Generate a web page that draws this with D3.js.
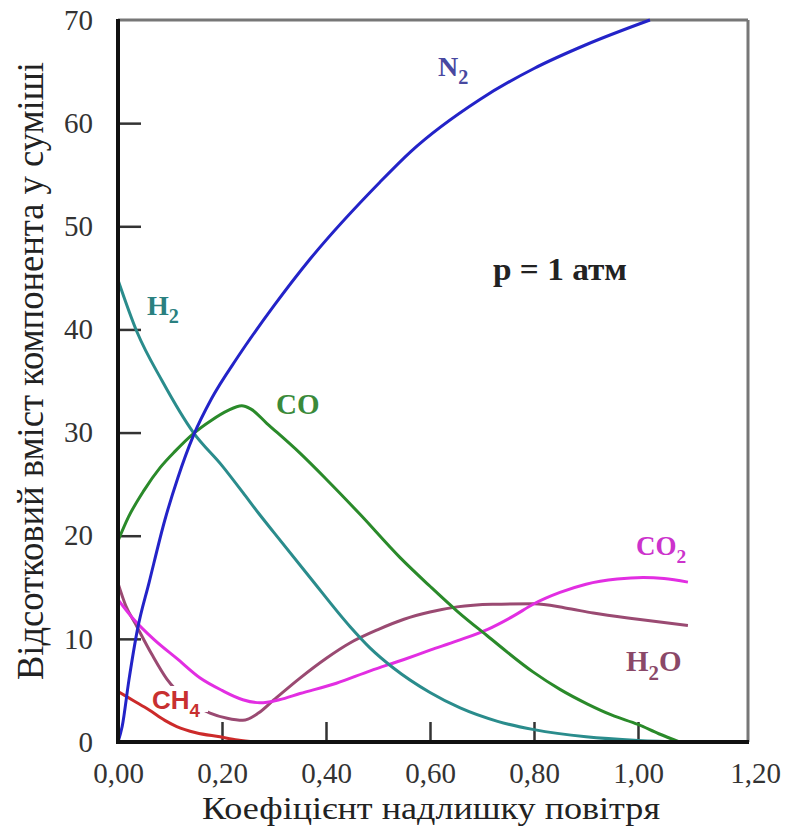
<!DOCTYPE html>
<html>
<head>
<meta charset="utf-8">
<script src="https://cdn.jsdelivr.net/npm/d3@7"></script>
<style>
  body { margin: 0; background: #fff; }
  svg { display: block; }
</style>
</head>
<body>
<svg id="chart" width="789" height="834"></svg>
<script>
// ---------------- data ----------------
var xTicks = [0, 0.2, 0.4, 0.6, 0.8, 1.0, 1.2];
var yTicks = [0, 10, 20, 30, 40, 50, 60, 70];

var N2  = [[0,0],[0.008,1.5],[0.021,6],[0.037,10.8],[0.06,15.5],[0.09,21.5],[0.115,25.6],[0.145,29.7],
           [0.18,33.3],[0.23,37.3],[0.3,42.3],[0.369,46.8],[0.504,54.3],[0.562,57.2],[0.696,62.3],
           [0.8,65.3],[0.9,67.6],[1.023,70]];
var H2  = [[0,44.8],[0.037,39.7],[0.085,35],[0.145,30],[0.2,26.8],[0.24,24.2],
           [0.27,22.2],[0.3,20.3],[0.37,15.9],[0.446,11.2],[0.485,9.1],[0.529,7.2],[0.6,4.8],[0.658,3.3],
           [0.73,2],[0.8,1.2],[0.9,0.5],[1.0,0.15],[1.094,0]];
var CO  = [[0,19.5],[0.02,21.8],[0.05,24.4],[0.081,26.6],[0.11,28.2],[0.145,29.9],[0.18,31.2],[0.21,32.1],
           [0.238,32.6],[0.255,32.3],[0.286,30.9],[0.35,28],[0.4,25.5],[0.465,22.1],[0.542,17.9],[0.6,15.1],
           [0.652,12.7],[0.71,10.3],[0.798,6.8],[0.85,5.1],[0.902,3.7],[0.95,2.6],[1.0,1.7],[1.04,0.8],[1.08,0]];
var CO2 = [[0,13.8],[0.03,11.9],[0.07,9.9],[0.113,8.1],[0.158,6.2],[0.2,5],[0.24,4.1],[0.273,3.8],
           [0.31,4.1],[0.35,4.7],[0.42,5.7],[0.485,6.9],[0.55,8],[0.6,8.9],[0.652,9.8],[0.71,10.9],
           [0.76,12.2],[0.8,13.4],[0.85,14.5],[0.9,15.3],[0.96,15.8],[1.01,15.95],[1.05,15.85],[1.096,15.5]];
var H2O = [[0,15.4],[0.015,13.2],[0.033,11.5],[0.065,8.5],[0.094,6.1],[0.13,4.2],[0.177,2.8],
           [0.21,2.3],[0.24,2.1],[0.27,2.8],[0.3,4.1],[0.35,6.2],[0.4,8.1],[0.446,9.6],[0.5,10.9],
           [0.55,11.9],[0.6,12.6],[0.652,13.1],[0.72,13.35],[0.8,13.4],[0.86,13],[0.914,12.5],[1.0,11.9],[1.096,11.3]];
var CH4 = [[0,4.9],[0.03,4],[0.06,3.1],[0.09,2.1],[0.113,1.5],[0.15,0.9],[0.196,0.5],[0.23,0.2],[0.267,0]];

// ---------------- setup ----------------
var svg = d3.select("#chart");
var serif = '"Liberation Serif", "Times New Roman", serif';

var xScale = d3.scaleLinear().domain([0, 1.2]).range([118, 742]);
var yScale = d3.scaleLinear().domain([0, 70]).range([742, 20]);
var frameRight = xScale(1.2) + 6;

var line = d3.line()
    .x(function(d) { return xScale(d[0]); })
    .y(function(d) { return yScale(d[1]); })
    .curve(d3.curveMonotoneX);

// ---------------- axes ----------------
var xAxis = svg.append("g")
    .attr("transform", "translate(0," + yScale(0) + ")")
    .call(d3.axisBottom(xScale).tickValues(xTicks).tickSize(-20).tickPadding(20)
          .tickFormat(function(d) { return d3.format(".2f")(d).replace(".", ","); }));
xAxis.select(".domain").remove();
xAxis.selectAll(".tick line").attr("stroke", "#333").attr("stroke-width", 2.5)
    .style("display", function(d) { return (d === 0 || d === 1.2) ? "none" : null; });
xAxis.selectAll(".tick text")
    .attr("dx", function(d) { return d === 1.2 ? 13 : 0; })
    .style("font-family", serif).style("font-size", "29px").attr("fill", "#333");

var yAxis = svg.append("g")
    .attr("transform", "translate(" + xScale(0) + ",0)")
    .call(d3.axisLeft(yScale).tickValues(yTicks).tickSize(-23).tickPadding(25));
yAxis.select(".domain").remove();
yAxis.selectAll(".tick line").attr("stroke", "#333").attr("stroke-width", 2.5)
    .style("display", function(d) { return (d === 0 || d === 70) ? "none" : null; });
yAxis.selectAll(".tick text")
    .style("font-family", serif).style("font-size", "29px").attr("fill", "#333");

// frame: gray top/right
svg.append("line").attr("x1", xScale(0)).attr("x2", frameRight)
    .attr("y1", yScale(70)).attr("y2", yScale(70))
    .attr("stroke", "#777").attr("stroke-width", 3);
svg.append("line").attr("x1", frameRight).attr("x2", frameRight)
    .attr("y1", yScale(70)).attr("y2", yScale(0))
    .attr("stroke", "#777").attr("stroke-width", 3);

// ---------------- curves ----------------
function drawCurve(data, color) {
  svg.append("path").datum(data)
      .attr("d", line)
      .attr("fill", "none")
      .attr("stroke", color)
      .attr("stroke-width", 3)
      .attr("stroke-linejoin", "round");
}

drawCurve(H2O, "#9a4a72");

// white box under the CH4 label cuts the H2O line
svg.append("rect").attr("x", 150).attr("y", 686).attr("width", 58).attr("height", 26).attr("fill", "#fff");

drawCurve(CH4, "#cc2a2a");
drawCurve(CO2, "#e22ee2");
drawCurve(H2, "#2a8c8c");
drawCurve(CO, "#2a8a2a");
drawCurve(N2, "#2323c8");

// black left / bottom axes
svg.append("line").attr("x1", xScale(0)).attr("x2", xScale(0))
    .attr("y1", yScale(70) - 1).attr("y2", yScale(0) + 2)
    .attr("stroke", "#111").attr("stroke-width", 4);
svg.append("line").attr("x1", xScale(0) - 2).attr("x2", frameRight + 1)
    .attr("y1", yScale(0)).attr("y2", yScale(0))
    .attr("stroke", "#111").attr("stroke-width", 4);

// ---------------- labels ----------------
function chemLabel(x, y, main, sub, tail, color, size, family) {
  var t = svg.append("text")
      .attr("x", x).attr("y", y)
      .style("font-family", family || serif)
      .style("font-weight", "bold")
      .style("font-size", size + "px")
      .attr("fill", color);
  t.append("tspan").text(main);
  if (sub) t.append("tspan").attr("dy", size * 0.3).style("font-size", (size * 0.72) + "px").text(sub);
  if (tail) t.append("tspan").attr("dy", -size * 0.3).text(tail);
  return t;
}

chemLabel(438, 76, "N", "2", null, "#4848a0", 28);
chemLabel(147, 315, "H", "2", null, "#2a8080", 28);
chemLabel(276, 414, "CO", null, null, "#3a8a3a", 29);
chemLabel(636, 555, "CO", "2", null, "#cc33cc", 27);
chemLabel(626, 671, "H", "2", "O", "#8a4868", 29);
chemLabel(152, 709, "CH", "4", null, "#c83030", 26, '"Liberation Sans", Arial, sans-serif');

svg.append("text")
    .attr("x", 493).attr("y", 280)
    .attr("textLength", 134).attr("lengthAdjust", "spacingAndGlyphs")
    .style("font-family", serif).style("font-weight", "bold").style("font-size", "31px")
    .attr("fill", "#222")
    .text("p = 1 атм");

// axis titles
svg.append("text")
    .attr("transform", "translate(43,371) rotate(-90)")
    .attr("text-anchor", "middle")
    .attr("textLength", 618).attr("lengthAdjust", "spacingAndGlyphs")
    .style("font-family", serif).style("font-size", "37px")
    .attr("fill", "#222")
    .text("Відсотковий вміст компонента у суміші");

svg.append("text")
    .attr("x", 431).attr("y", 819)
    .attr("text-anchor", "middle")
    .attr("textLength", 458).attr("lengthAdjust", "spacingAndGlyphs")
    .style("font-family", serif).style("font-size", "32px")
    .attr("fill", "#222")
    .text("Коефіцієнт надлишку повітря");
</script>
</body>
</html>
